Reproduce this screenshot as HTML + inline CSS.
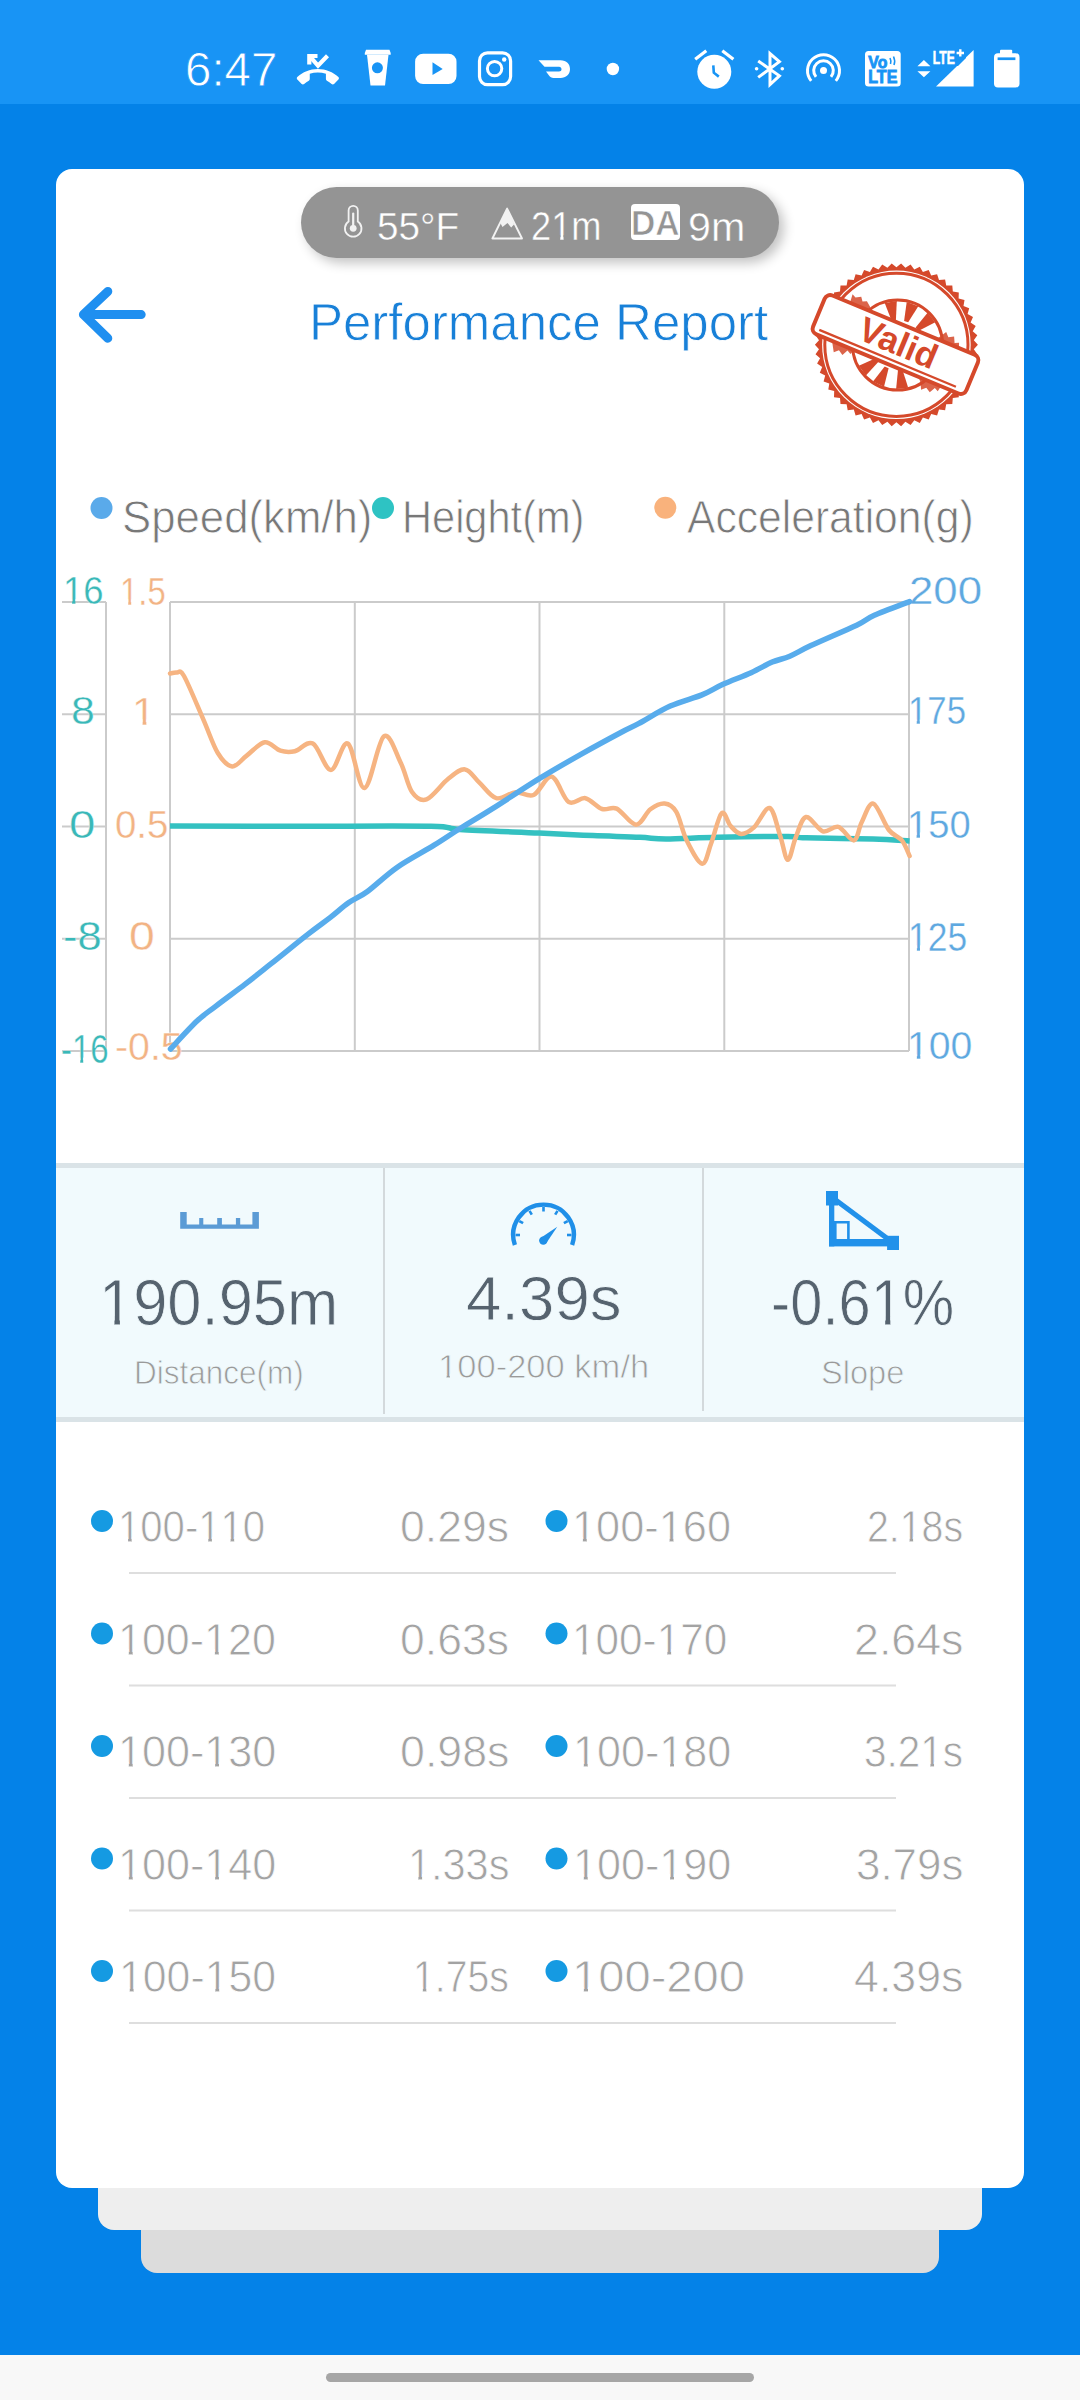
<!DOCTYPE html>
<html><head><meta charset="utf-8"><title>Performance Report</title><style>
*{margin:0;padding:0;box-sizing:border-box}
html,body{width:1080px;height:2400px;overflow:hidden}
body{background:#0482e8;position:relative;font-family:'Liberation Sans',sans-serif}
.abs{position:absolute}
.t{position:absolute;white-space:nowrap;line-height:1;transform-origin:0 0}
.one{display:inline-block;clip-path:polygon(-1em -1em,2em -1em,2em 0.70em,0.3398em 0.70em,0.3398em 2em,0.2515em 2em,0.2515em 0.70em,-1em 0.70em)}
</style></head>
<body>
<div class="abs" style="left:0;top:0;width:1080px;height:104px;background:#1894f5"></div>
<div class="abs" style="left:141px;top:2150px;width:798px;height:123px;background:#dcdcdc;border-radius:0 0 16px 16px"></div>
<div class="abs" style="left:98px;top:2120px;width:884px;height:110px;background:#eeeeee;border-radius:0 0 16px 16px"></div>
<div class="abs" style="left:56px;top:169px;width:968px;height:2019px;background:#ffffff;border-radius:16px"></div>
<div class="abs" style="left:0;top:2355px;width:1080px;height:45px;background:#f8f8f8"></div>
<div class="abs" style="left:326px;top:2373px;width:428px;height:9px;background:#a6a6a6;border-radius:5px"></div>
<div class="abs" style="left:301px;top:187px;width:478px;height:71px;background:#949494;border-radius:36px;box-shadow:5px 5px 12px rgba(0,0,0,0.24)"></div><div class="abs" style="left:630.7px;top:204px;width:49.3px;height:36px;background:#ffffff;border-radius:4px"></div><svg class="abs" style="left:0;top:0" width="1080" height="300"><path d="M348.6,221.5 V210.5 A4.6,4.6 0 0 1 357.8,210.5 V221.5 A8.3,8.3 0 1 1 348.6,221.5 Z" fill="none" stroke="#f2f2f2" stroke-width="1.8"/><line x1="353.2" y1="213.5" x2="353.2" y2="226" stroke="#f2f2f2" stroke-width="2.2" stroke-linecap="round"/><circle cx="353.2" cy="228.3" r="3.4" fill="#f2f2f2"/><path d="M507.1,208.6 L492.4,238.5 L522,238.5 Z" fill="none" stroke="#f2f2f2" stroke-width="1.9" stroke-linejoin="round"/><path d="M507.1,208.6 L500.2,222.8 L502.5,227.1 L507.5,223.1 L511.2,227.5 L514.2,224.2 Z" fill="#f2f2f2"/></svg>
<svg class="abs" style="left:0;top:0" width="200" height="400"><path d="M107.8,291.4 L83.4,314.6 L107.8,338.2 M83.4,314.6 L141.2,314.6" fill="none" stroke="#1f8ff0" stroke-width="9" stroke-linecap="round" stroke-linejoin="round"/></svg>
<svg class="abs" style="left:0;top:0" width="1080" height="500"><polygon points="977.9,344.8 973.8,349.3 977.3,354.3 972.7,358.3 975.7,363.6 970.6,367.0 973.0,372.7 967.6,375.5 969.2,381.4 963.5,383.6 964.5,389.6 958.6,391.1 958.8,397.2 952.8,398.0 952.3,404.1 946.2,404.2 945.1,410.2 939.0,409.6 937.1,415.4 931.2,414.1 928.7,419.6 922.9,417.6 919.8,422.9 914.3,420.2 910.6,425.1 905.4,421.8 901.1,426.2 896.4,422.3 891.7,426.2 887.4,421.8 882.2,425.1 878.5,420.2 873.0,422.9 869.9,417.6 864.1,419.6 861.6,414.1 855.6,415.4 853.8,409.6 847.7,410.2 846.6,404.2 840.5,404.1 840.0,398.0 834.0,397.2 834.2,391.1 828.3,389.6 829.3,383.6 823.6,381.4 825.2,375.5 819.8,372.7 822.2,367.0 817.1,363.6 820.1,358.3 815.5,354.3 819.0,349.3 814.9,344.8 819.0,340.3 815.5,335.3 820.1,331.3 817.1,326.0 822.2,322.6 819.8,316.9 825.2,314.1 823.6,308.2 829.3,306.1 828.3,300.0 834.2,298.5 834.0,292.4 840.0,291.6 840.5,285.5 846.6,285.4 847.7,279.4 853.8,280.0 855.6,274.2 861.6,275.5 864.1,270.0 869.9,272.0 873.0,266.7 878.5,269.4 882.2,264.5 887.4,267.8 891.7,263.4 896.4,267.3 901.1,263.4 905.4,267.8 910.6,264.5 914.3,269.4 919.8,266.7 922.9,272.0 928.7,270.0 931.2,275.5 937.1,274.2 939.0,280.0 945.1,279.4 946.2,285.4 952.3,285.5 952.8,291.6 958.8,292.4 958.6,298.5 964.5,300.0 963.5,306.1 969.2,308.2 967.6,314.1 973.0,316.9 970.6,322.6 975.7,326.0 972.7,331.3 977.3,335.3 973.8,340.3" fill="#d5492b"/><circle cx="896.4" cy="344.8" r="74.3" fill="#fff"/><circle cx="896.4" cy="344.8" r="71.6" fill="none" stroke="#d5492b" stroke-width="3"/><circle cx="897.6" cy="345" r="45" fill="none" stroke="#d5492b" stroke-width="3"/><polygon points="884.7,302.9 896.8,301.0 895.9,320.1 891.6,320.7" fill="#d5492b"/><polygon points="906.7,302.0 918.3,306.2 908.2,322.3 904.1,320.9" fill="#d5492b"/><polygon points="927.6,312.8 935.3,322.3 918.3,331.0 915.6,327.6" fill="#d5492b"/><polygon points="865.9,375.6 858.8,365.7 876.2,357.9 878.7,361.4" fill="#d5492b"/><polygon points="884.0,386.8 873.0,381.5 884.7,366.4 888.6,368.3" fill="#d5492b"/><polygon points="908.2,387.7 896.1,389.0 898.0,370.0 902.4,369.5" fill="#d5492b"/><g transform="translate(895.5,344.5) rotate(22.6)" fill="#d5492b" opacity="0.85"><path d="M-58,-21 L-36,-21 L-38,-25 L-43,-29 L-47,-27 L-50,-31 L-55,-28 L-59,-30 Z"/><path d="M36,-21 L60,-21 L58,-26 L54,-24 L51,-30 L46,-27 L42,-31 L39,-26 Z"/><path d="M-60,21 L-36,21 L-38,26 L-42,24 L-45,30 L-50,27 L-54,31 L-57,26 Z"/><path d="M34,21 L58,21 L57,27 L53,25 L50,31 L45,28 L41,32 L38,26 Z"/></g><g transform="translate(895.5,344.5) rotate(22.6)"><rect x="-83" y="-21" width="166" height="42" rx="6" fill="#fff" stroke="#d5492b" stroke-width="4"/><line x1="-76" y1="15.8" x2="72" y2="15.8" stroke="#d5492b" stroke-width="2.3"/><text x="2" y="9.5" text-anchor="middle" font-family="Liberation Sans" font-weight="700" font-size="35" fill="#d5492b">Valid</text></g></svg>
<svg class="abs" style="left:0;top:0" width="1080" height="600"><circle cx="101.5" cy="508" r="11" fill="#5aaaea"/><circle cx="383" cy="508" r="11" fill="#2ec3c3"/><circle cx="665.3" cy="507.8" r="11" fill="#f9b27c"/></svg>
<svg class="abs" width="1080" height="1200" viewBox="0 0 1080 1200" style="left:0;top:0"><line x1="170" y1="602" x2="909" y2="602" stroke="#cbcbcb" stroke-width="2"/><line x1="62" y1="602" x2="106" y2="602" stroke="#cbcbcb" stroke-width="2"/><line x1="170" y1="714.3" x2="909" y2="714.3" stroke="#cbcbcb" stroke-width="2"/><line x1="62" y1="714.3" x2="106" y2="714.3" stroke="#cbcbcb" stroke-width="2"/><line x1="170" y1="826.5" x2="909" y2="826.5" stroke="#cbcbcb" stroke-width="2"/><line x1="62" y1="826.5" x2="106" y2="826.5" stroke="#cbcbcb" stroke-width="2"/><line x1="170" y1="938.8" x2="909" y2="938.8" stroke="#cbcbcb" stroke-width="2"/><line x1="62" y1="938.8" x2="106" y2="938.8" stroke="#cbcbcb" stroke-width="2"/><line x1="170" y1="1051" x2="909" y2="1051" stroke="#cbcbcb" stroke-width="2"/><line x1="62" y1="1051" x2="106" y2="1051" stroke="#cbcbcb" stroke-width="2"/><line x1="170" y1="602" x2="170" y2="1051" stroke="#cbcbcb" stroke-width="2"/><line x1="354.8" y1="602" x2="354.8" y2="1051" stroke="#cbcbcb" stroke-width="2"/><line x1="539.5" y1="602" x2="539.5" y2="1051" stroke="#cbcbcb" stroke-width="2"/><line x1="724.3" y1="602" x2="724.3" y2="1051" stroke="#cbcbcb" stroke-width="2"/><line x1="909" y1="602" x2="909" y2="1051" stroke="#cbcbcb" stroke-width="2"/><line x1="106" y1="602" x2="106" y2="1051" stroke="#cbcbcb" stroke-width="2"/></svg><div class="t" style="left:63.17px;top:572.19px;font-size:38.73px;color:#3ab8b8;-webkit-text-stroke:0.35px #ffffff;transform:scaleX(0.9413);"><span class="one">1</span>6</div>
<div class="t" style="left:71.03px;top:692.30px;font-size:38.03px;color:#3ab8b8;-webkit-text-stroke:0.35px #ffffff;transform:scaleX(1.1268);">8</div>
<div class="t" style="left:69.40px;top:804.86px;font-size:39.58px;color:#3ab8b8;-webkit-text-stroke:0.35px #ffffff;transform:scaleX(1.2000);">0</div>
<div class="t" style="left:63.42px;top:915.94px;font-size:40.42px;color:#3ab8b8;-webkit-text-stroke:0.35px #ffffff;transform:scaleX(1.0760);">-8</div>
<div class="t" style="left:61.39px;top:1028.87px;font-size:40.85px;color:#3ab8b8;-webkit-text-stroke:0.35px #ffffff;transform:scaleX(0.8072);">-<span class="one">1</span>6</div>
<div class="t" style="left:119.86px;top:571.71px;font-size:39.29px;color:#f2b384;-webkit-text-stroke:0.35px #ffffff;transform:scaleX(0.8367);"><span class="one">1</span>.5</div>
<div class="t" style="left:131.96px;top:691.74px;font-size:39.13px;color:#f2b384;-webkit-text-stroke:0.35px #ffffff;transform:scaleX(1.0769);"><span class="one">1</span></div>
<div class="t" style="left:115.00px;top:804.86px;font-size:39.58px;color:#f2b384;-webkit-text-stroke:0.35px #ffffff;transform:scaleX(0.9709);">0.5</div>
<div class="t" style="left:128.99px;top:915.94px;font-size:40.42px;color:#f2b384;-webkit-text-stroke:0.35px #ffffff;transform:scaleX(1.1474);">0</div>
<div class="t" style="left:114.89px;top:1027.60px;font-size:38.03px;color:#f2b384;-webkit-text-stroke:0.35px #ffffff;transform:scaleX(1.0339);">-0.5</div>
<div class="t" style="left:908.75px;top:572.17px;font-size:38.87px;color:#5ea8e0;-webkit-text-stroke:0.35px #ffffff;transform:scaleX(1.1265);">200</div>
<div class="t" style="left:907.63px;top:692.31px;font-size:38.71px;color:#5ea8e0;-webkit-text-stroke:0.35px #ffffff;transform:scaleX(0.8983);"><span class="one">1</span>75</div>
<div class="t" style="left:906.74px;top:804.83px;font-size:39.15px;color:#5ea8e0;-webkit-text-stroke:0.35px #ffffff;transform:scaleX(0.9750);"><span class="one">1</span>50</div>
<div class="t" style="left:908.46px;top:917.30px;font-size:40.00px;color:#5ea8e0;-webkit-text-stroke:0.35px #ffffff;transform:scaleX(0.8852);"><span class="one">1</span>25</div>
<div class="t" style="left:907.22px;top:1027.17px;font-size:38.87px;color:#5ea8e0;-webkit-text-stroke:0.35px #ffffff;transform:scaleX(1.0084);"><span class="one">1</span>00</div><svg class="abs" width="1080" height="1200" viewBox="0 0 1080 1200" style="left:0;top:0"><path d="M170.0,826.0 C191.7,826.0 256.5,826.2 300.0,826.3 C343.5,826.3 404.3,825.8 431.0,826.3 C457.7,826.8 442.0,828.4 460.0,829.5 C478.0,830.6 516.8,832.0 539.0,833.0 C561.2,834.0 576.2,834.9 593.0,835.6 C609.8,836.3 627.8,836.7 640.0,837.3 C652.2,837.9 653.0,839.0 666.0,839.0 C679.0,839.0 697.7,837.7 718.0,837.3 C738.3,836.9 773.3,836.4 788.0,836.5 C802.7,836.6 791.8,837.4 806.0,837.8 C820.2,838.2 855.7,838.5 873.0,839.0 C890.3,839.5 903.5,840.7 909.6,841.0" fill="none" stroke="#34c1c1" stroke-width="5.5" stroke-linejoin="round"/><path d="M170.0,673.5 C171.2,673.3 174.7,672.1 177.0,672.5 C179.3,672.9 179.6,668.2 184.0,676.0 C188.4,683.8 197.7,706.6 203.3,719.4 C208.9,732.2 213.0,745.2 217.8,753.0 C222.6,760.8 227.4,766.0 232.2,766.4 C237.0,766.8 241.3,759.6 246.7,755.6 C252.1,751.6 259.1,743.1 264.7,742.3 C270.3,741.5 275.4,749.2 280.4,750.7 C285.4,752.2 289.4,752.4 294.8,751.2 C300.2,750.0 306.9,740.4 312.9,743.5 C318.9,746.6 325.1,770.0 330.9,770.0 C336.7,770.0 342.2,740.5 347.8,743.5 C353.4,746.5 358.6,789.2 364.6,788.0 C370.6,786.8 377.9,740.5 383.9,736.3 C389.9,732.1 396.0,753.5 400.7,762.8 C405.4,772.1 407.7,785.9 412.0,792.0 C416.3,798.1 420.5,801.6 426.5,799.4 C432.5,797.2 441.6,784.0 448.0,779.0 C454.4,774.0 459.8,768.8 465.0,769.4 C470.2,770.0 474.2,777.8 479.4,782.6 C484.6,787.4 490.3,796.6 496.3,798.2 C502.3,799.8 509.4,792.7 515.6,792.2 C521.8,791.7 527.6,797.6 533.6,795.0 C539.6,792.4 545.9,775.5 551.7,776.6 C557.5,777.8 562.9,798.3 568.5,801.9 C574.1,805.5 579.8,797.0 585.4,798.2 C591.0,799.4 597.0,807.3 602.2,809.0 C607.4,810.7 611.1,806.0 616.7,808.6 C622.3,811.2 630.4,824.6 636.0,824.7 C641.6,824.8 645.6,812.8 650.4,809.3 C655.2,805.8 660.3,803.2 664.6,803.6 C668.9,804.0 672.6,805.8 676.3,811.9 C680.0,818.0 682.4,831.8 686.7,840.4 C691.0,849.0 698.1,863.3 702.2,863.7 C706.3,864.1 708.0,851.4 711.3,843.0 C714.5,834.6 718.5,815.9 721.7,813.1 C724.9,810.3 727.5,822.6 730.7,826.1 C733.9,829.6 737.2,833.7 741.1,833.9 C745.0,834.1 749.2,831.7 754.0,827.4 C758.8,823.1 765.3,806.7 769.6,808.0 C773.9,809.3 777.0,826.6 780.0,835.2 C783.0,843.8 785.2,859.4 787.8,859.8 C790.4,860.2 792.6,844.9 795.6,837.8 C798.6,830.7 801.5,818.1 806.0,817.0 C810.5,815.9 817.4,829.6 822.8,831.3 C828.2,832.9 833.1,825.4 838.3,826.9 C843.5,828.4 850.0,841.2 853.9,840.4 C857.8,839.6 858.5,828.3 861.7,822.2 C864.9,816.1 868.8,802.3 873.3,803.6 C877.8,804.9 884.1,823.9 888.9,830.0 C893.7,836.1 898.4,836.1 901.9,840.4 C905.4,844.7 908.3,853.4 909.6,856.0" fill="none" stroke="#f6b482" stroke-width="4.5" stroke-linejoin="round" stroke-linecap="round"/><path d="M170.5,1049.0 C174.9,1044.3 189.5,1028.2 197.0,1021.1 C204.5,1014.0 207.6,1012.5 215.6,1006.3 C223.6,1000.1 235.9,991.2 245.2,984.1 C254.4,977.0 260.6,972.0 271.1,963.7 C281.6,955.4 298.2,941.8 308.1,934.1 C318.0,926.4 323.6,922.6 330.4,917.4 C337.2,912.1 342.7,906.9 348.9,902.6 C355.1,898.3 359.4,897.4 367.4,891.5 C375.4,885.6 385.9,875.1 397.0,867.4 C408.1,859.7 423.6,851.7 434.1,845.2 C444.6,838.7 450.1,834.7 460.0,828.5 C469.9,822.3 480.0,816.5 493.3,808.1 C506.6,799.7 525.2,787.3 540.0,778.2 C554.8,769.1 568.7,761.2 582.2,753.6 C595.7,746.0 611.5,737.5 620.9,732.5 C630.3,727.5 630.3,728.1 638.5,723.7 C646.7,719.3 659.6,710.9 670.2,706.1 C680.8,701.3 693.1,698.5 701.9,694.9 C710.7,691.3 714.8,688.0 723.0,684.3 C731.2,680.6 742.9,676.4 751.1,672.7 C759.3,669.0 765.8,664.9 772.2,662.1 C778.7,659.4 783.3,659.0 789.8,656.2 C796.2,653.5 799.8,650.8 810.9,645.6 C822.0,640.4 846.1,630.2 856.7,625.2 C867.3,620.2 865.5,619.2 874.3,615.3 C883.1,611.4 903.6,603.9 909.5,601.6" fill="none" stroke="#58acec" stroke-width="5.5" stroke-linejoin="round" stroke-linecap="round"/></svg>
<div class="abs" style="left:56px;top:1162.7px;width:968px;height:5.1px;background:#dae3e7"></div><div class="abs" style="left:56px;top:1167.8px;width:968px;height:249.2px;background:#f1fafd"></div><div class="abs" style="left:56px;top:1417px;width:968px;height:4.7px;background:#dae3e7"></div><div class="abs" style="left:383px;top:1168px;width:2px;height:246px;background:#d3d9dc"></div><div class="abs" style="left:702px;top:1168px;width:2px;height:242.5px;background:#d3d9dc"></div><svg class="abs" style="left:0;top:0" width="1080" height="1300"><path d="M180.2,1212 H186.7 V1224.5 H199.2 V1218 H203.3 V1224.5 H217.2 V1218 H221.9 V1224.5 H235.9 V1218 H240.2 V1224.5 H252.4 V1212 H258.9 V1228.7 H180.2 Z" fill="#5b9bd5"/><path d="M514.9,1244.9 A30.3,30.3 0 1 1 572.1,1244.9" fill="none" stroke="#1f8fe8" stroke-width="4.4"/><line x1="515.5" y1="1235.0" x2="520.0" y2="1235.0" stroke="#1f8fe8" stroke-width="2.6"/><line x1="519.3" y1="1221.0" x2="523.1" y2="1223.2" stroke="#1f8fe8" stroke-width="2.6"/><line x1="529.5" y1="1210.8" x2="531.8" y2="1214.6" stroke="#1f8fe8" stroke-width="2.6"/><line x1="543.5" y1="1207.0" x2="543.5" y2="1211.5" stroke="#1f8fe8" stroke-width="2.6"/><line x1="557.5" y1="1210.8" x2="555.2" y2="1214.6" stroke="#1f8fe8" stroke-width="2.6"/><line x1="567.7" y1="1221.0" x2="563.9" y2="1223.2" stroke="#1f8fe8" stroke-width="2.6"/><line x1="571.5" y1="1235.0" x2="567.0" y2="1235.0" stroke="#1f8fe8" stroke-width="2.6"/><circle cx="543.3" cy="1240.6" r="4.2" fill="#1f8fe8"/><path d="M540.5,1238 L557.3,1226.8 L546.2,1243.2 Z" fill="#1f8fe8"/><rect x="826" y="1191" width="12" height="14.5" fill="#2191ea"/><rect x="887.1" y="1235.8" width="11.9" height="14.2" fill="#2191ea"/><rect x="829" y="1203" width="5.3" height="43.4" fill="#2191ea"/><rect x="829" y="1239" width="60" height="7.4" fill="#2191ea"/><line x1="835" y1="1199.5" x2="892" y2="1242" stroke="#2191ea" stroke-width="5.3"/><path d="M834,1220.9 H849.7 V1239.5 H834 Z M836.6,1223.5 V1239.5 H847.1 V1223.5 Z" fill="#2191ea" fill-rule="evenodd"/></svg>
<svg class="abs" style="left:0;top:0" width="1080" height="2100"><circle cx="102" cy="1521.0" r="11" fill="#159ae2"/><circle cx="556.5" cy="1521.0" r="11" fill="#159ae2"/><line x1="129" y1="1573.0" x2="896" y2="1573.0" stroke="#dedede" stroke-width="2"/><circle cx="102" cy="1633.5" r="11" fill="#159ae2"/><circle cx="556.5" cy="1633.5" r="11" fill="#159ae2"/><line x1="129" y1="1685.5" x2="896" y2="1685.5" stroke="#dedede" stroke-width="2"/><circle cx="102" cy="1746.0" r="11" fill="#159ae2"/><circle cx="556.5" cy="1746.0" r="11" fill="#159ae2"/><line x1="129" y1="1798.0" x2="896" y2="1798.0" stroke="#dedede" stroke-width="2"/><circle cx="102" cy="1858.5" r="11" fill="#159ae2"/><circle cx="556.5" cy="1858.5" r="11" fill="#159ae2"/><line x1="129" y1="1910.5" x2="896" y2="1910.5" stroke="#dedede" stroke-width="2"/><circle cx="102" cy="1971.0" r="11" fill="#159ae2"/><circle cx="556.5" cy="1971.0" r="11" fill="#159ae2"/><line x1="129" y1="2023.0" x2="896" y2="2023.0" stroke="#dedede" stroke-width="2"/></svg>
<svg class="abs" style="left:0;top:0" width="1080" height="104"><g transform="translate(296.8,47.9) scale(1.754,1.75)"><path d="M23.71 16.67C20.66 13.78 16.54 12 12 12 7.46 12 3.34 13.78.29 16.67c-.18.18-.29.43-.29.71s.11.53.29.71l2.48 2.48c.18.18.43.29.71.29.27 0 .52-.11.7-.28.79-.74 1.69-1.36 2.66-1.85.33-.16.56-.5.56-.9v-3.1c1.45-.48 3-.73 4.6-.73 1.6 0 3.15.25 4.6.72v3.1c0 .39.23.74.56.9.98.49 1.87 1.12 2.67 1.85.18.18.43.28.7.28.28 0 .53-.11.71-.29l2.48-2.48c.18-.18.29-.43.29-.71s-.12-.52-.3-.7z" fill="#ffffff"/></g><path d="M309.3,64.6 V56 H317.5" fill="none" stroke="#ffffff" stroke-width="4.2" stroke-linecap="butt"/><path d="M310.5,57.2 L318,65.6 L327.5,55.8" fill="none" stroke="#ffffff" stroke-width="4.2"/><path d="M366,49.7 H389.5 L390.7,52.9 V54.8 H364.8 V52.9 Z" fill="#ffffff"/><path d="M367,54.8 H388.5 L385,85.6 H370.5 Z" fill="#ffffff"/><circle cx="377.4" cy="67.8" r="5.5" fill="#1894f5"/><rect x="415.1" y="53.7" width="41.4" height="30.3" rx="8" fill="#ffffff"/><path d="M432.5,62.3 L442.7,68.9 L432.5,74.9 Z" fill="#1894f5"/><rect x="479.5" y="52.9" width="31.1" height="31.7" rx="8" fill="none" stroke="#ffffff" stroke-width="3.2"/><circle cx="494.6" cy="68.6" r="7.2" fill="none" stroke="#ffffff" stroke-width="3"/><circle cx="504.2" cy="59.5" r="2.2" fill="#ffffff"/><path d="M538.5,60.2 L560.5,60.2 C566.5,60.2 570,64 570,69 C570,74.5 566,78 560.5,78 L553.5,78 C551.5,78 550,77 549,75.5 L546,71.5 L559,71.5 C560.5,71.5 561.5,70.5 561.5,69.2 C561.5,67.8 560.5,66.8 559,66.8 L544.5,66.8 Z" fill="#ffffff"/><circle cx="612.9" cy="69" r="6.2" fill="#ffffff"/><circle cx="714.3" cy="71.8" r="17" fill="#ffffff"/><path d="M695.2,59.3 L706.3,50.7 M722.3,50.7 L733.4,59.3" stroke="#ffffff" stroke-width="3.2"/><path d="M713.3,65.3 L713.8,72.7 L718.8,76.6" fill="none" stroke="#1894f5" stroke-width="2.6"/><path d="M758.2,60.9 L779.4,75.8 L770,84.5 V53.5 L779.4,61.7 L758.2,77.4" fill="none" stroke="#ffffff" stroke-width="3" stroke-linejoin="miter"/><circle cx="756.6" cy="68.8" r="1.8" fill="#ffffff"/><circle cx="782.3" cy="68.8" r="1.8" fill="#ffffff"/><circle cx="823.5" cy="70.6" r="3.5" fill="#ffffff"/><path d="M816.0,76.9 A9.8,9.8 0 1 1 831.0,76.9" fill="none" stroke="#ffffff" stroke-width="3"/><path d="M811.2,80.9 A16,16 0 1 1 835.8,80.9" fill="none" stroke="#ffffff" stroke-width="3"/><rect x="865" y="50.9" width="35.7" height="35.7" rx="3.5" fill="#ffffff"/><text x="868.3" y="68" font-family="Liberation Sans" font-weight="700" font-size="17" fill="#1894f5" stroke="#1894f5" stroke-width="0.9" textLength="19" lengthAdjust="spacingAndGlyphs">Vo</text><path d="M890,58 Q891.5,61 890.5,64 M893.5,56.5 Q895.5,60.5 894,65" fill="none" stroke="#1894f5" stroke-width="1.6"/><text x="868.3" y="83.4" font-family="Liberation Sans" font-weight="700" font-size="17.5" fill="#1894f5" stroke="#1894f5" stroke-width="0.9" textLength="29" lengthAdjust="spacingAndGlyphs">LTE</text><path d="M917.4,66.3 L923.9,60.1 L930.4,66.3 Z M917.4,71.2 L930.4,71.2 L923.9,77.3 Z" fill="#ffffff"/><path d="M936,86.6 L973.6,50.1 L973.6,86.6 Z" fill="#ffffff"/><path d="M945,66 L958,66 L966,58 L966,49 L945,49 Z" fill="#1894f5"/><text x="932.8" y="63.9" font-family="Liberation Sans" font-weight="700" font-size="17.8" fill="#ffffff" stroke="#ffffff" stroke-width="0.6" textLength="22" lengthAdjust="spacingAndGlyphs">LTE</text><path d="M960.3,49.3 V56.6 M956.6,53 H964" stroke="#ffffff" stroke-width="2.4"/><rect x="1000" y="49.8" width="12.2" height="5" rx="1" fill="#ffffff"/><rect x="994" y="53.3" width="25.5" height="34.1" rx="4" fill="#ffffff"/><rect x="997.6" y="57.4" width="17.8" height="2.7" fill="#1894f5"/></svg>
<div class="t" style="left:185.27px;top:45.84px;font-size:47.71px;color:#ffffff;-webkit-text-stroke:0.8px #1894f5;transform:scaleX(0.9943);">6:47</div>
<div class="t" style="left:376.77px;top:206.73px;font-size:39.15px;color:#ffffff;-webkit-text-stroke:0.45px #949494;transform:scaleX(0.9893);">55°F</div>
<div class="t" style="left:531.17px;top:206.88px;font-size:40.14px;color:#ffffff;-webkit-text-stroke:0.45px #949494;transform:scaleX(0.9038);">2<span class="one">1</span>m</div>
<div class="t" style="left:687.64px;top:206.60px;font-size:40.00px;color:#ffffff;-webkit-text-stroke:0.45px #949494;transform:scaleX(1.0305);">9m</div>
<div class="t" style="left:308.61px;top:296.03px;font-size:52.32px;color:#1880d8;-webkit-text-stroke:0.8px #ffffff;transform:scaleX(0.9748);">Performance Report</div>
<div class="t" style="left:121.50px;top:495.46px;font-size:45.52px;color:#787878;-webkit-text-stroke:0.8px #ffffff;transform:scaleX(0.9608);">Speed(km/h)</div>
<div class="t" style="left:402.35px;top:495.46px;font-size:45.52px;color:#787878;-webkit-text-stroke:0.8px #ffffff;transform:scaleX(0.9131);">Height(m)</div>
<div class="t" style="left:687.30px;top:495.46px;font-size:45.52px;color:#787878;-webkit-text-stroke:0.8px #ffffff;transform:scaleX(0.9363);">Acceleration(g)</div>
<div class="t" style="left:98.81px;top:1271.32px;font-size:64.51px;color:#56636f;-webkit-text-stroke:0.8px #f1fafd;transform:scaleX(0.9529);"><span class="one">1</span>90.95m</div>
<div class="t" style="left:133.85px;top:1355.67px;font-size:33.13px;color:#9a9a9a;-webkit-text-stroke:0.8px #f1fafd;transform:scaleX(0.9512);">Distance(m)</div>
<div class="t" style="left:466.26px;top:1266.73px;font-size:63.80px;color:#56636f;-webkit-text-stroke:0.8px #f1fafd;transform:scaleX(0.9970);">4.39s</div>
<div class="t" style="left:437.56px;top:1350.39px;font-size:33.19px;color:#9a9a9a;-webkit-text-stroke:0.8px #f1fafd;transform:scaleX(1.0411);"><span class="one">1</span>00-200 km/h</div>
<div class="t" style="left:770.60px;top:1271.28px;font-size:64.79px;color:#56636f;-webkit-text-stroke:0.8px #f1fafd;transform:scaleX(0.8927);">-0.6<span class="one">1</span>%</div>
<div class="t" style="left:820.74px;top:1355.59px;font-size:33.19px;color:#9a9a9a;-webkit-text-stroke:0.8px #f1fafd;transform:scaleX(0.9815);">Slope</div>
<div class="t" style="left:118.48px;top:1505.11px;font-size:44.93px;color:#a3a3a3;-webkit-text-stroke:0.8px #ffffff;transform:scaleX(0.8923);"><span class="one">1</span>00-<span class="one">1</span><span class="one">1</span>0</div>
<div class="t" style="left:399.72px;top:1505.11px;font-size:44.93px;color:#a3a3a3;-webkit-text-stroke:0.8px #ffffff;transform:scaleX(0.9915);">0.29s</div>
<div class="t" style="left:572.06px;top:1505.11px;font-size:44.93px;color:#a3a3a3;-webkit-text-stroke:0.8px #ffffff;transform:scaleX(0.9643);"><span class="one">1</span>00-<span class="one">1</span>60</div>
<div class="t" style="left:867.22px;top:1505.11px;font-size:44.93px;color:#a3a3a3;-webkit-text-stroke:0.8px #ffffff;transform:scaleX(0.8739);">2.<span class="one">1</span>8s</div>
<div class="t" style="left:118.19px;top:1617.61px;font-size:44.93px;color:#a3a3a3;-webkit-text-stroke:0.8px #ffffff;transform:scaleX(0.9573);"><span class="one">1</span>00-<span class="one">1</span>20</div>
<div class="t" style="left:399.72px;top:1617.61px;font-size:44.93px;color:#a3a3a3;-webkit-text-stroke:0.8px #ffffff;transform:scaleX(0.9915);">0.63s</div>
<div class="t" style="left:572.16px;top:1617.61px;font-size:44.93px;color:#a3a3a3;-webkit-text-stroke:0.8px #ffffff;transform:scaleX(0.9422);"><span class="one">1</span>00-<span class="one">1</span>70</div>
<div class="t" style="left:854.01px;top:1617.61px;font-size:44.93px;color:#a3a3a3;-webkit-text-stroke:0.8px #ffffff;transform:scaleX(0.9962);">2.64s</div>
<div class="t" style="left:118.48px;top:1730.11px;font-size:44.93px;color:#a3a3a3;-webkit-text-stroke:0.8px #ffffff;transform:scaleX(0.9599);"><span class="one">1</span>00-<span class="one">1</span>30</div>
<div class="t" style="left:399.91px;top:1730.11px;font-size:44.93px;color:#a3a3a3;-webkit-text-stroke:0.8px #ffffff;transform:scaleX(0.9962);">0.98s</div>
<div class="t" style="left:572.58px;top:1730.11px;font-size:44.93px;color:#a3a3a3;-webkit-text-stroke:0.8px #ffffff;transform:scaleX(0.9599);"><span class="one">1</span>00-<span class="one">1</span>80</div>
<div class="t" style="left:863.97px;top:1730.11px;font-size:44.93px;color:#a3a3a3;-webkit-text-stroke:0.8px #ffffff;transform:scaleX(0.9012);">3.2<span class="one">1</span>s</div>
<div class="t" style="left:118.48px;top:1842.61px;font-size:44.93px;color:#a3a3a3;-webkit-text-stroke:0.8px #ffffff;transform:scaleX(0.9599);"><span class="one">1</span>00-<span class="one">1</span>40</div>
<div class="t" style="left:407.85px;top:1842.61px;font-size:44.93px;color:#a3a3a3;-webkit-text-stroke:0.8px #ffffff;transform:scaleX(0.9227);"><span class="one">1</span>.33s</div>
<div class="t" style="left:572.58px;top:1842.61px;font-size:44.93px;color:#a3a3a3;-webkit-text-stroke:0.8px #ffffff;transform:scaleX(0.9599);"><span class="one">1</span>00-<span class="one">1</span>90</div>
<div class="t" style="left:855.80px;top:1842.61px;font-size:44.93px;color:#a3a3a3;-webkit-text-stroke:0.8px #ffffff;transform:scaleX(0.9768);">3.79s</div>
<div class="t" style="left:118.51px;top:1955.11px;font-size:44.93px;color:#a3a3a3;-webkit-text-stroke:0.8px #ffffff;transform:scaleX(0.9523);"><span class="one">1</span>00-<span class="one">1</span>50</div>
<div class="t" style="left:413.38px;top:1955.11px;font-size:44.93px;color:#a3a3a3;-webkit-text-stroke:0.8px #ffffff;transform:scaleX(0.8715);"><span class="one">1</span>.75s</div>
<div class="t" style="left:572.18px;top:1955.11px;font-size:44.93px;color:#a3a3a3;-webkit-text-stroke:0.8px #ffffff;transform:scaleX(1.0496);"><span class="one">1</span>00-200</div>
<div class="t" style="left:853.76px;top:1955.11px;font-size:44.93px;color:#a3a3a3;-webkit-text-stroke:0.8px #ffffff;transform:scaleX(0.9958);">4.39s</div>
<div class="t" style="left:630.54px;top:205.72px;font-size:34.26px;color:#949494;-webkit-text-stroke:0.7px #ffffff;font-weight:700;transform:scaleX(0.9824);">DA</div>
</body></html>
